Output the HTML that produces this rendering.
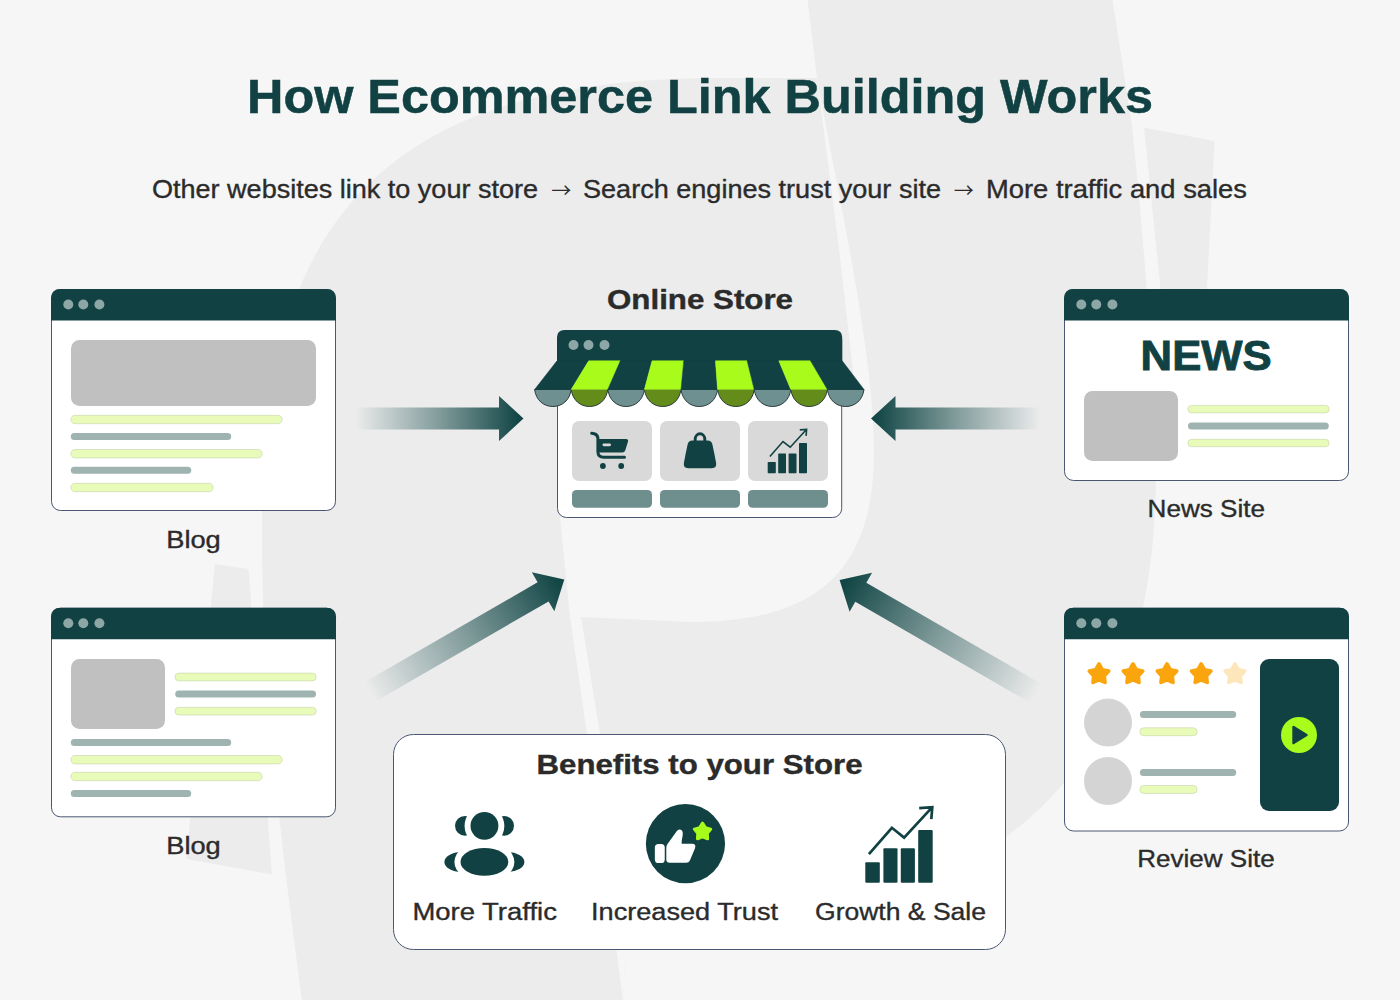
<!DOCTYPE html>
<html lang="en">
<head>
<meta charset="utf-8">
<title>How Ecommerce Link Building Works</title>
<style>
html,body{margin:0;padding:0;background:#f6f6f6;}
body{width:1400px;height:1000px;overflow:hidden;position:relative;}
svg{position:absolute;left:0;top:0;display:block;}
text{font-family:"Liberation Sans",sans-serif;}
.t{fill:#2b2b2b;}
.b{font-weight:bold;}
</style>
</head>
<body>
<svg width="1400" height="1000" viewBox="0 0 1400 1000">
<defs>
<linearGradient id="ag168" gradientUnits="userSpaceOnUse" x1="-168" y1="0" x2="0" y2="0"><stop offset="0" stop-color="#164a4a" stop-opacity="0"/><stop offset="0.5" stop-color="#164a4a" stop-opacity="0.5"/><stop offset="0.97" stop-color="#134646" stop-opacity="1"/></linearGradient>
<linearGradient id="ag169" gradientUnits="userSpaceOnUse" x1="-169" y1="0" x2="0" y2="0"><stop offset="0" stop-color="#164a4a" stop-opacity="0"/><stop offset="0.5" stop-color="#164a4a" stop-opacity="0.5"/><stop offset="0.97" stop-color="#134646" stop-opacity="1"/></linearGradient>
<linearGradient id="ag225" gradientUnits="userSpaceOnUse" x1="-225" y1="0" x2="0" y2="0"><stop offset="0" stop-color="#164a4a" stop-opacity="0"/><stop offset="0.5" stop-color="#164a4a" stop-opacity="0.5"/><stop offset="0.97" stop-color="#134646" stop-opacity="1"/></linearGradient>
<linearGradient id="ag228" gradientUnits="userSpaceOnUse" x1="-228" y1="0" x2="0" y2="0"><stop offset="0" stop-color="#164a4a" stop-opacity="0"/><stop offset="0.5" stop-color="#164a4a" stop-opacity="0.5"/><stop offset="0.97" stop-color="#134646" stop-opacity="1"/></linearGradient>
</defs>
<!-- BACKGROUND -->
<g id="bg">
<rect width="1400" height="1000" fill="#f6f6f6"/>
<path d="M302,1000 C286,880 262,700 262,540 L262,515 C262,209 400,78 720,78 L817,78 L807.5,0 L1112.5,0 L1132,126 C1140,200 1156,380 1156,470 C1156,750 1020,905 760,905 L628,900 L623,1000 Z" fill="#ececec"/>
<path d="M215,564 L248.5,569 L272,874.5 L186.3,859 Z" fill="#ececec"/>
<path d="M1144,127.5 L1214.5,141 L1207,288 L1200,480 L1172,480 L1160.5,288 Z" fill="#ececec"/>
<path d="M817,78 C835,180 874,350 874,450 C874,570 819,622 691,622 L581,617 L600,734 L628,900 L623,1000 L610,900 L587,734 L570,617 L560,517 L560,380 L854,380 L850,345 L838,240 Z" fill="#f6f6f6"/>
</g>
<!-- TITLE -->
<g id="title">
<text x="247" y="113.2" font-size="48.3" fill="#114142" stroke="#114142" stroke-width="0.5" font-weight="bold" textLength="906" lengthAdjust="spacingAndGlyphs">How Ecommerce Link Building Works</text>
<text x="152" y="197.6" font-size="25" fill="#2b2b2b" stroke="#2b2b2b" stroke-width="0.35" textLength="386" lengthAdjust="spacingAndGlyphs">Other websites link to your store</text>
<text x="551.2" y="197.5" font-size="20" fill="#2b2b2b" style='font-family:"Noto Sans CJK JP","DejaVu Sans",sans-serif'>→</text>
<text x="583" y="197.6" font-size="25" fill="#2b2b2b" stroke="#2b2b2b" stroke-width="0.35" textLength="358" lengthAdjust="spacingAndGlyphs">Search engines trust your site</text>
<text x="953.8" y="197.5" font-size="20" fill="#2b2b2b" style='font-family:"Noto Sans CJK JP","DejaVu Sans",sans-serif'>→</text>
<text x="986" y="197.6" font-size="25" fill="#2b2b2b" stroke="#2b2b2b" stroke-width="0.35" textLength="261" lengthAdjust="spacingAndGlyphs">More traffic and sales</text>
</g>
<!-- ARROWS -->
<g id="arrows">
<g transform="translate(523.5,418.5) rotate(0)"><path d="M0,0 L-24.5,-22.5 L-24.5,-11 L-168.5,-11 L-168.5,11 L-24.5,11 L-24.5,22.5 Z" fill="url(#ag168)"/></g>
<g transform="translate(871,418.5) rotate(180)"><path d="M0,0 L-24.5,-22.5 L-24.5,-11 L-169,-11 L-169,11 L-24.5,11 L-24.5,22.5 Z" fill="url(#ag169)"/></g>
<g transform="translate(564.3,579.6) rotate(-30)"><path d="M0,0 L-24.5,-22.5 L-24.5,-11 L-225,-11 L-225,11 L-24.5,11 L-24.5,22.5 Z" fill="url(#ag225)"/></g>
<g transform="translate(839.6,580) rotate(210)"><path d="M0,0 L-24.5,-22.5 L-24.5,-11 L-228,-11 L-228,11 L-24.5,11 L-24.5,22.5 Z" fill="url(#ag228)"/></g>
</g>
<!-- WINDOWS -->
<g id="blog1">
<rect x="51.5" y="289.5" width="284" height="221" rx="9" fill="#fff" stroke="#4b5673" stroke-width="1"/>
<path d="M51.0,320.5 L51.0,298.5 Q51.0,289.0 60.5,289.0 L326.5,289.0 Q336.0,289.0 336.0,298.5 L336.0,320.5 Z" fill="#114142"/>
<circle cx="68.3" cy="304.5" r="5" fill="#8da6a6"/>
<circle cx="83.3" cy="304.5" r="5" fill="#8da6a6"/>
<circle cx="99.4" cy="304.5" r="5" fill="#8da6a6"/>
<rect x="71" y="340" width="245.0" height="66.0" rx="8.5" fill="#c0c0c0"/>
<rect x="70.8" y="415.3" width="211.4" height="8.4" rx="4.2" fill="#e8fbb9" stroke="#c6d3ab" stroke-width="0.6"/>
<rect x="70.8" y="433" width="160.4" height="7.0" rx="3.5" fill="#9fb3b0"/>
<rect x="70.8" y="449.5" width="191.4" height="8.4" rx="4.2" fill="#e8fbb9" stroke="#c6d3ab" stroke-width="0.6"/>
<rect x="70.8" y="466.8" width="120.4" height="7.0" rx="3.5" fill="#9fb3b0"/>
<rect x="70.8" y="483.3" width="142.4" height="8.4" rx="4.2" fill="#e8fbb9" stroke="#c6d3ab" stroke-width="0.6"/>
<text x="166.2" y="547.8" font-size="23.5" fill="#2b2b2b" stroke="#2b2b2b" stroke-width="0.35" textLength="54.6" lengthAdjust="spacingAndGlyphs">Blog</text>
</g>
<g id="blog2">
<rect x="51.5" y="608.3" width="284" height="208.5" rx="9" fill="#fff" stroke="#4b5673" stroke-width="1"/>
<path d="M51.0,639.3 L51.0,617.3 Q51.0,607.8 60.5,607.8 L326.5,607.8 Q336.0,607.8 336.0,617.3 L336.0,639.3 Z" fill="#114142"/>
<circle cx="68.3" cy="623.3" r="5" fill="#8da6a6"/>
<circle cx="83.3" cy="623.3" r="5" fill="#8da6a6"/>
<circle cx="99.4" cy="623.3" r="5" fill="#8da6a6"/>
<rect x="71" y="659" width="94.0" height="70.0" rx="8.5" fill="#c0c0c0"/>
<rect x="175.0" y="673.1" width="141.2" height="7.8" rx="3.9" fill="#e8fbb9" stroke="#c6d3ab" stroke-width="0.6"/>
<rect x="175.2" y="690.4" width="140.8" height="7.0" rx="3.5" fill="#9fb3b0"/>
<rect x="175.0" y="707.3" width="141.2" height="7.7" rx="3.8" fill="#e8fbb9" stroke="#c6d3ab" stroke-width="0.6"/>
<rect x="70.8" y="739" width="160.4" height="7.0" rx="3.5" fill="#9fb3b0"/>
<rect x="70.8" y="755.5" width="211.4" height="8.4" rx="4.2" fill="#e8fbb9" stroke="#c6d3ab" stroke-width="0.6"/>
<rect x="70.8" y="772.3" width="191.4" height="8.4" rx="4.2" fill="#e8fbb9" stroke="#c6d3ab" stroke-width="0.6"/>
<rect x="70.8" y="790" width="120.4" height="7.0" rx="3.5" fill="#9fb3b0"/>
<text x="166.2" y="854.2" font-size="23.5" fill="#2b2b2b" stroke="#2b2b2b" stroke-width="0.35" textLength="54.6" lengthAdjust="spacingAndGlyphs">Blog</text>
</g>
<g id="news">
<rect x="1064.5" y="289.5" width="284" height="191" rx="9" fill="#fff" stroke="#4b5673" stroke-width="1"/>
<path d="M1064.0,320.5 L1064.0,298.5 Q1064.0,289.0 1073.5,289.0 L1339.5,289.0 Q1349.0,289.0 1349.0,298.5 L1349.0,320.5 Z" fill="#114142"/>
<circle cx="1081.3" cy="304.5" r="5" fill="#8da6a6"/>
<circle cx="1096.3" cy="304.5" r="5" fill="#8da6a6"/>
<circle cx="1112.4" cy="304.5" r="5" fill="#8da6a6"/>
<text x="1140.6" y="370.4" font-size="42" fill="#114142" stroke="#114142" stroke-width="0.9" font-weight="bold" textLength="131" lengthAdjust="spacingAndGlyphs">NEWS</text>
<rect x="1084" y="391" width="94.0" height="70.0" rx="8.5" fill="#c0c0c0"/>
<rect x="1187.9" y="405.4" width="141.2" height="7.5" rx="3.7" fill="#e8fbb9" stroke="#c6d3ab" stroke-width="0.6"/>
<rect x="1188" y="422.5" width="140.8" height="7.0" rx="3.5" fill="#9fb3b0"/>
<rect x="1187.9" y="439.3" width="141.2" height="7.4" rx="3.7" fill="#e8fbb9" stroke="#c6d3ab" stroke-width="0.6"/>
<text x="1147.6" y="517.4" font-size="23.5" fill="#2b2b2b" stroke="#2b2b2b" stroke-width="0.35" textLength="117.4" lengthAdjust="spacingAndGlyphs">News Site</text>
</g>
<g id="review">
<rect x="1064.5" y="608.3" width="284" height="222.7" rx="9" fill="#fff" stroke="#4b5673" stroke-width="1"/>
<path d="M1064.0,639.3 L1064.0,617.3 Q1064.0,607.8 1073.5,607.8 L1339.5,607.8 Q1349.0,607.8 1349.0,617.3 L1349.0,639.3 Z" fill="#114142"/>
<circle cx="1081.3" cy="623.3" r="5" fill="#8da6a6"/>
<circle cx="1096.3" cy="623.3" r="5" fill="#8da6a6"/>
<circle cx="1112.4" cy="623.3" r="5" fill="#8da6a6"/>
<path d="M1099.00,664.00 L1102.24,669.74 L1108.70,671.05 L1104.24,675.90 L1105.00,682.45 L1099.00,679.71 L1093.00,682.45 L1093.76,675.90 L1089.30,671.05 L1095.76,669.74 Z" fill="#fba50e" stroke="#fba50e" stroke-width="3.67" stroke-linejoin="round"/>
<path d="M1133.00,664.00 L1136.24,669.74 L1142.70,671.05 L1138.24,675.90 L1139.00,682.45 L1133.00,679.71 L1127.00,682.45 L1127.76,675.90 L1123.30,671.05 L1129.76,669.74 Z" fill="#fba50e" stroke="#fba50e" stroke-width="3.67" stroke-linejoin="round"/>
<path d="M1167.00,664.00 L1170.24,669.74 L1176.70,671.05 L1172.24,675.90 L1173.00,682.45 L1167.00,679.71 L1161.00,682.45 L1161.76,675.90 L1157.30,671.05 L1163.76,669.74 Z" fill="#fba50e" stroke="#fba50e" stroke-width="3.67" stroke-linejoin="round"/>
<path d="M1201.20,664.00 L1204.44,669.74 L1210.90,671.05 L1206.44,675.90 L1207.20,682.45 L1201.20,679.71 L1195.20,682.45 L1195.96,675.90 L1191.50,671.05 L1197.96,669.74 Z" fill="#fba50e" stroke="#fba50e" stroke-width="3.67" stroke-linejoin="round"/>
<path d="M1235.00,664.00 L1238.24,669.74 L1244.70,671.05 L1240.24,675.90 L1241.00,682.45 L1235.00,679.71 L1229.00,682.45 L1229.76,675.90 L1225.30,671.05 L1231.76,669.74 Z" fill="#fde6ba" stroke="#fde6ba" stroke-width="3.67" stroke-linejoin="round"/>
<circle cx="1108" cy="722.6" r="24" fill="#d4d4d4"/>
<circle cx="1108" cy="781" r="24" fill="#d4d4d4"/>
<rect x="1139.9" y="711" width="96.3" height="7.0" rx="3.5" fill="#9fb3b0"/>
<rect x="1139.8" y="727.8" width="57.4" height="7.9" rx="4.0" fill="#e8fbb9" stroke="#c6d3ab" stroke-width="0.6"/>
<rect x="1139.9" y="769" width="96.3" height="7.0" rx="3.5" fill="#9fb3b0"/>
<rect x="1139.8" y="785.5" width="57.4" height="7.9" rx="4.0" fill="#e8fbb9" stroke="#c6d3ab" stroke-width="0.6"/>
<rect x="1260" y="659" width="79.0" height="152.0" rx="9" fill="#114142"/>
<circle cx="1299" cy="735" r="18" fill="#a9fb1c"/>
<path d="M1293.5,727 L1306.5,735 L1293.5,743 Z" fill="#114142" stroke="#114142" stroke-width="2.4" stroke-linejoin="round"/>
<text x="1137.3" y="867.4" font-size="23.5" fill="#2b2b2b" stroke="#2b2b2b" stroke-width="0.35" textLength="137.4" lengthAdjust="spacingAndGlyphs">Review Site</text>
</g>
<!-- STORE -->
<g id="store">
<text x="607" y="309.4" font-size="28" fill="#2b2b2b" stroke="#2b2b2b" stroke-width="0.4" font-weight="bold" textLength="186" lengthAdjust="spacingAndGlyphs">Online Store</text>
<rect x="557.5" y="331" width="284.20000000000005" height="186.5" rx="9" fill="#fff" stroke="#4b5673" stroke-width="1"/>
<path d="M557,362 L557,337.5 Q557,330 564.5,330 L834.7,330 Q842.2,330 842.2,337.5 L842.2,362 Z" fill="#114142"/>
<circle cx="573.5" cy="345" r="5" fill="#8da6a6"/>
<circle cx="588.5" cy="345" r="5" fill="#8da6a6"/>
<circle cx="604.5" cy="345" r="5" fill="#8da6a6"/>
<path d="M534.60,389.5 C536.10,400.5 543.90,406.5 552.90,406.5 C561.90,406.5 569.70,400.5 571.20,389.5 Z" fill="#6f9090" stroke="#2a3c3c" stroke-width="1"/>
<path d="M557.00,360.8 L588.69,360.8 L571.20,389.5 L534.60,389.5 Z" fill="#114142" stroke="#114142" stroke-width="0.5"/>
<path d="M571.20,389.5 C572.70,400.5 580.50,406.5 589.50,406.5 C598.50,406.5 606.30,400.5 607.80,389.5 Z" fill="#648c1a" stroke="#2a3c3c" stroke-width="1"/>
<path d="M588.69,360.8 L620.38,360.8 L607.80,389.5 L571.20,389.5 Z" fill="#a9fb1c" stroke="#a9fb1c" stroke-width="0.5"/>
<path d="M607.80,389.5 C609.30,400.5 617.10,406.5 626.10,406.5 C635.10,406.5 642.90,400.5 644.40,389.5 Z" fill="#6f9090" stroke="#2a3c3c" stroke-width="1"/>
<path d="M620.38,360.8 L652.07,360.8 L644.40,389.5 L607.80,389.5 Z" fill="#114142" stroke="#114142" stroke-width="0.5"/>
<path d="M644.40,389.5 C645.90,400.5 653.70,406.5 662.70,406.5 C671.70,406.5 679.50,400.5 681.00,389.5 Z" fill="#648c1a" stroke="#2a3c3c" stroke-width="1"/>
<path d="M652.07,360.8 L683.76,360.8 L681.00,389.5 L644.40,389.5 Z" fill="#a9fb1c" stroke="#a9fb1c" stroke-width="0.5"/>
<path d="M681.00,389.5 C682.50,400.5 690.30,406.5 699.30,406.5 C708.30,406.5 716.10,400.5 717.60,389.5 Z" fill="#6f9090" stroke="#2a3c3c" stroke-width="1"/>
<path d="M683.76,360.8 L715.44,360.8 L717.60,389.5 L681.00,389.5 Z" fill="#114142" stroke="#114142" stroke-width="0.5"/>
<path d="M717.60,389.5 C719.10,400.5 726.90,406.5 735.90,406.5 C744.90,406.5 752.70,400.5 754.20,389.5 Z" fill="#648c1a" stroke="#2a3c3c" stroke-width="1"/>
<path d="M715.44,360.8 L747.13,360.8 L754.20,389.5 L717.60,389.5 Z" fill="#a9fb1c" stroke="#a9fb1c" stroke-width="0.5"/>
<path d="M754.20,389.5 C755.70,400.5 763.50,406.5 772.50,406.5 C781.50,406.5 789.30,400.5 790.80,389.5 Z" fill="#6f9090" stroke="#2a3c3c" stroke-width="1"/>
<path d="M747.13,360.8 L778.82,360.8 L790.80,389.5 L754.20,389.5 Z" fill="#114142" stroke="#114142" stroke-width="0.5"/>
<path d="M790.80,389.5 C792.30,400.5 800.10,406.5 809.10,406.5 C818.10,406.5 825.90,400.5 827.40,389.5 Z" fill="#648c1a" stroke="#2a3c3c" stroke-width="1"/>
<path d="M778.82,360.8 L810.51,360.8 L827.40,389.5 L790.80,389.5 Z" fill="#a9fb1c" stroke="#a9fb1c" stroke-width="0.5"/>
<path d="M827.40,389.5 C828.90,400.5 836.70,406.5 845.70,406.5 C854.70,406.5 862.50,400.5 864.00,389.5 Z" fill="#6f9090" stroke="#2a3c3c" stroke-width="1"/>
<path d="M810.51,360.8 L842.20,360.8 L864.00,389.5 L827.40,389.5 Z" fill="#114142" stroke="#114142" stroke-width="0.5"/>
<rect x="572" y="421" width="80" height="60" rx="7" fill="#d9d9d9"/>
<rect x="572" y="490" width="80" height="17.7" rx="4.5" fill="#6f8e8e"/>
<rect x="660" y="421" width="80" height="60" rx="7" fill="#d9d9d9"/>
<rect x="660" y="490" width="80" height="17.7" rx="4.5" fill="#6f8e8e"/>
<rect x="748" y="421" width="80" height="60" rx="7" fill="#d9d9d9"/>
<rect x="748" y="490" width="80" height="17.7" rx="4.5" fill="#6f8e8e"/>
<g fill="none" stroke="#114142" stroke-width="3" stroke-linecap="round" stroke-linejoin="round"><path d="M591.7,433.3 L594.2,433.7 Q597.9,434.6 597.9,438.5 L597.9,451.5 Q597.9,457.3 603.8,457.3 L624.5,457.3"/></g>
<path d="M598.2,439 L626,439 Q628.7,439 628,441.6 L625.3,450.2 Q624.6,452.5 622.2,452.5 L598.2,452.5 Z" fill="#114142"/>
<rect x="602.5" y="443.4" width="8.5" height="2.8" rx="1.4" fill="#d9d9d9"/>
<circle cx="602.9" cy="466" r="2.9" fill="#114142"/><circle cx="621.2" cy="466" r="2.9" fill="#114142"/>
<path d="M695.2,442 L695.2,439.2 A4.8,5.4 0 0 1 704.8,439.2 L704.8,442" fill="none" stroke="#114142" stroke-width="2.9"/>
<path d="M692.5,440.6 L707.5,440.6 Q711.6,440.6 712.4,444.5 Q714.5,454 716.1,463 Q716.9,468.2 711.8,468.2 L688.2,468.2 Q683.1,468.2 683.9,463 Q685.5,454 687.6,444.5 Q688.4,440.6 692.5,440.6 Z" fill="#114142"/>
<g fill="#114142"><rect x="767.7" y="462" width="8.1" height="11.2" rx="0.6"/><rect x="778.2" y="453.5" width="7.8" height="19.7" rx="0.6"/><rect x="788.6" y="453.5" width="7.9" height="19.7" rx="0.6"/><rect x="799" y="442.9" width="8" height="30.3" rx="0.6"/></g>
<path d="M769.9,456.6 L783,441.5 L790.2,447.2 L806.2,429.8 M799.8,429.9 L806.6,429.4 L806.1,435.9" fill="none" stroke="#114142" stroke-width="1.6" stroke-linejoin="miter"/>
</g>
<!-- BENEFITS -->
<g id="benefits">
<rect x="393.5" y="734.5" width="612" height="215" rx="20" fill="#fff" stroke="#4b5673" stroke-width="1"/>
<text x="536.5" y="774.4" font-size="28.5" fill="#2b2b2b" stroke="#2b2b2b" stroke-width="0.4" font-weight="bold" textLength="326" lengthAdjust="spacingAndGlyphs">Benefits to your Store</text>
<text x="412.4" y="919.5" font-size="23.5" fill="#2b2b2b" stroke="#2b2b2b" stroke-width="0.35" textLength="144.5" lengthAdjust="spacingAndGlyphs">More Traffic</text>
<text x="591" y="919.5" font-size="23.5" fill="#2b2b2b" stroke="#2b2b2b" stroke-width="0.35" textLength="187" lengthAdjust="spacingAndGlyphs">Increased Trust</text>
<text x="815" y="919.5" font-size="23.5" fill="#2b2b2b" stroke="#2b2b2b" stroke-width="0.35" textLength="171" lengthAdjust="spacingAndGlyphs">Growth &amp; Sale</text>
<circle cx="464.9" cy="825.85" r="9.9" fill="#114142"/><circle cx="504.1" cy="825.85" r="9.9" fill="#114142"/>
<circle cx="484.45" cy="825.85" r="19.9" fill="#fff"/>
<circle cx="484.45" cy="825.85" r="13.95" fill="#114142"/>
<ellipse cx="461.4" cy="862" rx="17" ry="10" fill="#114142"/><ellipse cx="507.4" cy="862" rx="17" ry="10" fill="#114142"/>
<ellipse cx="484.4" cy="862" rx="30" ry="20.5" fill="#fff"/>
<ellipse cx="484.4" cy="861.9" rx="23.9" ry="13.85" fill="#114142"/>
<circle cx="685.45" cy="843.65" r="39.6" fill="#114142"/>
<rect x="654.85" y="843.9" width="9.9" height="19.1" rx="3.6" fill="#fff"/>
<path d="M666.3,848 L666.3,859.5 Q666.3,862.8 669.7,862.8 L686.3,862.8 Q688.8,862.8 689.9,860.4 L694.9,848.6 Q696.6,843.8 692,843.8 L681.7,843.8 Q681.4,841.5 682.6,836 Q683.6,830 679.8,829.6 Q678,829.4 676.5,831.5 L667.5,844 Q666.3,845.6 666.3,848 Z" fill="#fff"/>
<path d="M702.55,823.20 L705.48,827.76 L710.73,829.14 L707.29,833.34 L707.60,838.76 L702.55,836.79 L697.50,838.76 L697.81,833.34 L694.37,829.14 L699.62,827.76 Z" fill="#a9fb1c" stroke="#a9fb1c" stroke-width="3.10" stroke-linejoin="round"/>
<g fill="#114142"><rect x="865.3" y="862.3" width="14.5" height="20.4" rx="1"/><rect x="883.4" y="848.2" width="14.1" height="34.5" rx="1"/><rect x="900.8" y="848.2" width="14.1" height="34.5" rx="1"/><rect x="918.2" y="830.1" width="14.5" height="52.6" rx="1"/></g>
<path d="M868.9,854.1 L891.9,827.8 L904.1,837.6 L931.6,807.8 M919.2,808.1 L932.3,807.1 L931.3,819.2" fill="none" stroke="#114142" stroke-width="2.7" stroke-linejoin="miter"/>
</g>
</svg>
</body>
</html>
